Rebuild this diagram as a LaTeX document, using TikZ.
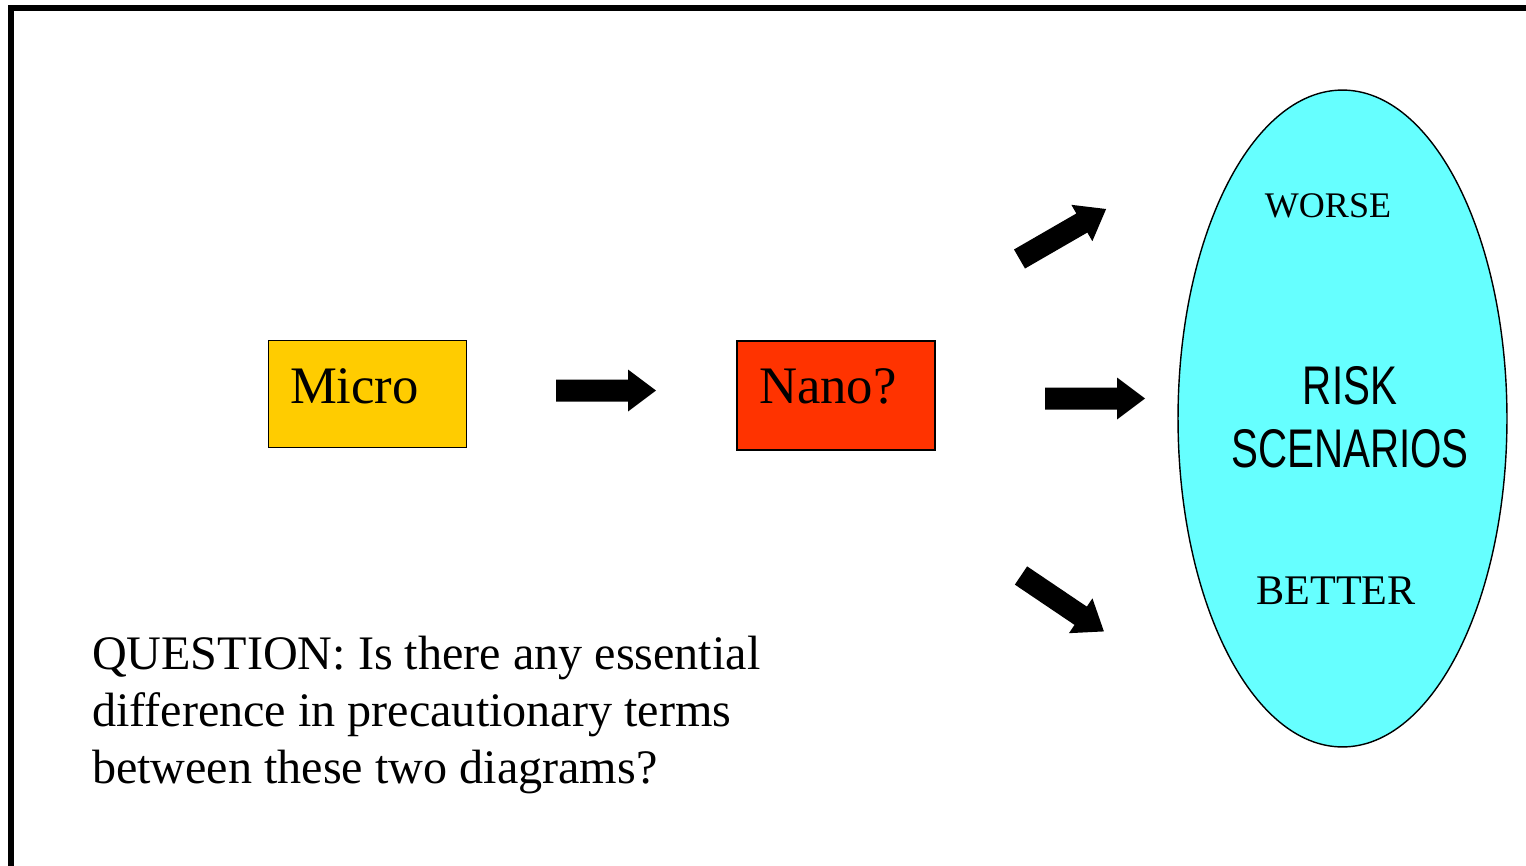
\documentclass[tikz,border=0pt]{standalone}
\usepackage{fontspec}
\setmainfont{Liberation Serif}
\newfontfamily\narrowsans[FakeStretch=0.74]{Liberation Sans}
\usetikzlibrary{shapes.geometric}
\definecolor{microyellow}{HTML}{FFCC00}
\definecolor{nanored}{HTML}{FF3300}
\definecolor{riskcyan}{HTML}{66FFFF}

\begin{document}
\begin{tikzpicture}[x=0.02cm, y=0.02cm, line join=miter,
    box/.style={draw, line width=1pt, minimum width=3.96cm, minimum height=2.14cm, inner sep=0pt, outer sep=0pt},
    label/.style={inner sep=0pt, outer sep=0pt},
    blockarrow/.style={fill=black}]
    \useasboundingbox (0,0) rectangle (1526,-866);
    % frame
    \draw[line width=3.4pt] (11,-866) -- (11,-8) -- (1526,-8);

    \node[box, fill=microyellow] (micro) at (367.5,-394) {};
    \node[label, anchor=base west, font=\fontsize{30}{32}\selectfont] (microtxt) at (290,-403) {Micro};
    \node[box, fill=nanored, minimum height=2.18cm] (nano) at (836,-395.5) {};
    \node[label, anchor=base west, font=\fontsize{30}{32}\selectfont] (nanotxt) at (759,-403) {Nano?};

    \node[draw, ellipse, fill=riskcyan, line width=0.8pt, minimum width=6.58cm, minimum height=13.14cm, inner sep=0pt] (risk) at (1342.5,-418.5) {};
    \node[label, anchor=base, font=\fontsize{20.5}{22}\selectfont] (worse) at (1328,-217) {WORSE};
    \node[label, anchor=base, font=\narrowsans\fontsize{31}{33}\selectfont] (risktxt) at (1350,-404) {RISK};
    \node[label, anchor=base, font=\narrowsans\fontsize{31}{33}\selectfont] (scen) at (1350,-467) {SCENARIOS};
    \node[label, anchor=base, font=\fontsize{24}{26}\selectfont] (better) at (1336,-604) {BETTER};

    % block arrows
    \foreach \x/\y/\a in {556/-390.5/0, 1045/-398.5/0, 1019.5/-259/30, 1021/-575.5/-34}
        \fill[blockarrow, shift={(\x,\y)}, rotate=\a] (0,-11) -- (72,-11) -- (72,-21) -- (100,0) -- (72,21) -- (72,11) -- (0,11) -- cycle;

    \node[label, anchor=base west, align=left, font=\fontsize{27.4}{32.3}\selectfont] (question) at (92,-783)
        {QUESTION: Is there any essential\\difference in precautionary terms\\between these two diagrams?};
\end{tikzpicture}
\end{document}
